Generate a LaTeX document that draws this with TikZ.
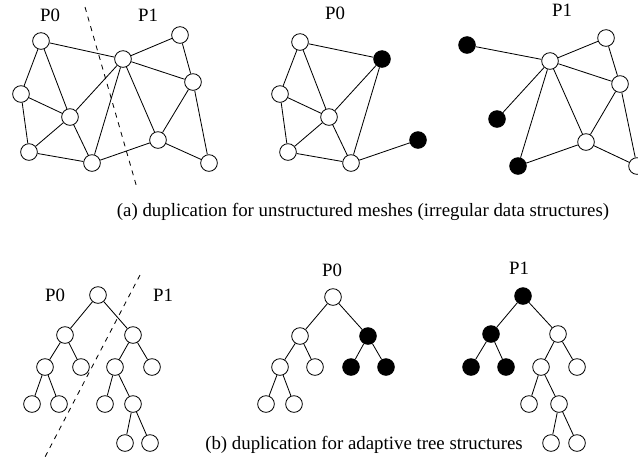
\documentclass[tikz,border=0pt]{standalone}
\usepackage{fontspec}
\setmainfont{Liberation Serif}
\begin{document}
\begin{tikzpicture}[x=0.6pt,y=-0.6pt,font=\fontsize{11.3}{13}\selectfont,vertex/.style={circle, draw, fill=white, line width=0.5pt, minimum size=10pt, inner sep=0pt},ghost/.style={vertex, fill=black},edge/.style={line width=0.5pt},cut/.style={dashed, line width=0.5pt},proc/.style={inner sep=0pt}]
\useasboundingbox (0,0) rectangle (638,467);
% (a) mesh split by the cut
\node[vertex] (mA) at (41,41) {}; \node[vertex] (mB) at (123,59) {}; \node[vertex] (mC) at (180,35) {};
\node[vertex] (mD) at (21,94) {}; \node[vertex] (mE) at (70,117) {}; \node[vertex] (mF) at (193,82) {};
\node[vertex] (mG) at (29,152) {}; \node[vertex] (mH) at (92,163) {}; \node[vertex] (mI) at (158,140) {};
\node[vertex] (mJ) at (209,163) {};
\foreach \a/\b in {A/B,A/D,A/E,B/C,B/F,B/E,B/H,B/I,C/F,F/I,F/J,D/E,D/G,E/G,E/H,G/H,H/I,I/J}
  \draw[edge] (m\a) -- (m\b);
\coordinate (mcutTop) at (85,7); \coordinate (mcutBot) at (137,188);
\draw[cut] (mcutTop) -- (mcutBot);
\node[proc] (mP0) at (50,15) {P0}; \node[proc] (mP1) at (148,15) {P1};
% (a) part of P0
\node[vertex] (pA) at (300,42) {}; \node[ghost] (pB) at (382,59) {}; \node[vertex] (pD) at (280,94) {};
\node[vertex] (pE) at (329,117) {}; \node[vertex] (pG) at (288,152) {}; \node[vertex] (pH) at (351,163) {};
\node[ghost] (pI) at (418,140) {};
\foreach \a/\b in {A/B,A/D,A/E,B/E,B/H,D/E,D/G,E/G,E/H,G/H,H/I}
  \draw[edge] (p\a) -- (p\b);
\node[proc] (pP0) at (335,13) {P0};
% (a) part of P1
\node[ghost] (qA) at (467,45) {}; \node[vertex] (qB) at (550,61) {}; \node[vertex] (qC) at (606,38) {};
\node[ghost] (qE) at (497,119) {}; \node[vertex] (qF) at (620,84) {}; \node[ghost] (qH) at (518,166) {};
\node[vertex] (qI) at (586,142) {}; \node[vertex] (qJ) at (637,166) {};
\foreach \a/\b in {A/B,B/C,B/F,B/E,B/H,B/I,C/F,F/I,F/J,H/I,I/J}
  \draw[edge] (q\a) -- (q\b);
\node[proc] (qP1) at (562,10) {P1};
\node (capA) at (363,212) {(a) duplication for unstructured meshes (irregular data structures)};
% (b) tree split by the cut
\node[vertex] (t0) at (98,295) {}; \node[vertex] (t1) at (65,335) {}; \node[vertex] (t2) at (133,335) {};
\node[vertex] (t3) at (45,367) {}; \node[vertex] (t4) at (81,367) {}; \node[vertex] (t5) at (115,367) {};
\node[vertex] (t6) at (152,367) {}; \node[vertex] (t7) at (32,404) {}; \node[vertex] (t8) at (59,404) {};
\node[vertex] (t9) at (105,404) {}; \node[vertex] (t10) at (133,404) {}; \node[vertex] (t11) at (125,443) {};
\node[vertex] (t12) at (150,443) {};
\foreach \a/\b in {0/1,0/2,1/3,1/4,2/5,2/6,3/7,3/8,5/9,5/10,10/11,10/12}
  \draw[edge] (t\a) -- (t\b);
\coordinate (tcutTop) at (140,275); \coordinate (tcutBot) at (45,457);
\draw[cut] (tcutTop) -- (tcutBot);
\node[proc] (tP0) at (55,295) {P0}; \node[proc] (tP1) at (163,295) {P1};
% (b) part of P0
\node[vertex] (u0) at (333,297) {}; \node[vertex] (u1) at (300,336) {}; \node[ghost] (u2) at (368,336) {};
\node[vertex] (u3) at (280,367) {}; \node[vertex] (u4) at (315,367) {}; \node[ghost] (u5) at (351,367) {};
\node[ghost] (u6) at (386,367) {}; \node[vertex] (u7) at (266,404) {}; \node[vertex] (u8) at (294,404) {};
\foreach \a/\b in {0/1,0/2,1/3,1/4,2/5,2/6,3/7,3/8}
  \draw[edge] (u\a) -- (u\b);
\node[proc] (uP0) at (332,270) {P0};
% (b) part of P1
\node[ghost] (v0) at (523,296) {}; \node[ghost] (v1) at (491,334) {}; \node[vertex] (v2) at (558,334) {};
\node[ghost] (v3) at (471,367) {}; \node[ghost] (v4) at (506,367) {}; \node[vertex] (v5) at (541,367) {};
\node[vertex] (v6) at (577,367) {}; \node[vertex] (v9) at (529,404) {}; \node[vertex] (v10) at (559,404) {};
\node[vertex] (v11) at (551,443) {}; \node[vertex] (v12) at (577,443) {};
\foreach \a/\b in {0/1,0/2,1/3,1/4,2/5,2/6,5/9,5/10,10/11,10/12}
  \draw[edge] (v\a) -- (v\b);
\node[proc] (vP1) at (519,268) {P1};
\node (capB) at (364,445) {(b) duplication for adaptive tree structures};
\end{tikzpicture}
\end{document}
